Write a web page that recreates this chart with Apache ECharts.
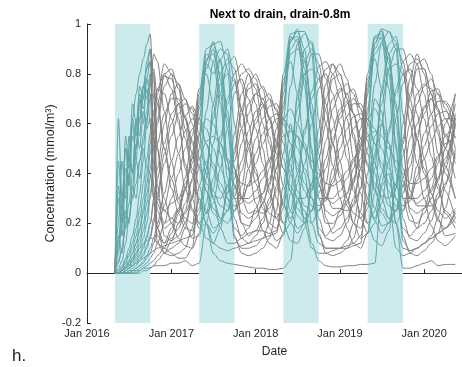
<!DOCTYPE html>
<html>
<head>
<meta charset="utf-8">
<script src="https://cdn.jsdelivr.net/npm/echarts@6/dist/echarts.min.js"></script>
<style>
html, body { margin: 0; padding: 0; background: #fff; }
#chart { width: 462px; height: 367px; }
</style>
</head>
<body>
<div id="chart"></div>
<script>
// Sample dates: half-monthly through the first growing season, monthly afterwards
const dates = [
  '2016-05-01','2016-05-16','2016-06-01','2016-06-16','2016-07-01','2016-07-16','2016-08-01',
  '2016-08-16','2016-09-01','2016-09-16','2016-10-01','2016-10-16','2016-11-01','2016-12-01',
  '2017-01-01','2017-02-01','2017-03-01','2017-04-01','2017-05-01','2017-06-01',
  '2017-07-01','2017-08-01','2017-09-01','2017-10-01','2017-11-01','2017-12-01',
  '2018-01-01','2018-02-01','2018-03-01','2018-04-01','2018-05-01','2018-06-01',
  '2018-07-01','2018-08-01','2018-09-01','2018-10-01','2018-11-01','2018-12-01',
  '2019-01-01','2019-02-01','2019-03-01','2019-04-01','2019-05-01','2019-06-01',
  '2019-07-01','2019-08-01','2019-09-01','2019-10-01','2019-11-01','2019-12-01',
  '2020-01-01','2020-02-01','2020-03-01','2020-04-01','2020-05-15'
];

// Growing seasons (shaded)
const seasonStarts = ['2016-05-01', '2017-05-01', '2018-05-01', '2019-05-01'];
const seasonEnds   = ['2016-10-01', '2017-10-01', '2018-10-01', '2019-10-01'];

// Axis ticks
const yearTicks = ['2016-01-01', '2017-01-01', '2018-01-01', '2019-01-01', '2020-01-01'];
const halfYearTicks = ['2016-01-01', '2016-07-01', '2017-01-01', '2017-07-01', '2018-01-01',
  '2018-07-01', '2019-01-01', '2019-07-01', '2020-01-01'];

// Concentration (mmol/m3) per observation point
const s1 = [0,.08,.2,.35,.5,.62,.72,.8,.86,.92,.96,.7,.35,.15,
  .13,.15,.2,.3,.55,.85,.92,.93,.82,.42,.2,.15,
  .17,.22,.3,.42,.66,.93,.97,.97,.88,.48,.22,.16,
  .18,.22,.3,.42,.64,.92,.98,.97,.9,.5,.24,.18,
  .2,.25,.32,.42,.6];
const s2 = [0,.3,.15,.42,.38,.55,.5,.68,.75,.82,.85,.5,.25,.18,
  .2,.25,.33,.48,.72,.9,.92,.85,.58,.3,.2,.19,
  .22,.28,.36,.52,.8,.96,.97,.9,.62,.3,.2,.2,
  .23,.28,.37,.52,.8,.95,.97,.88,.6,.3,.21,.2,
  .24,.3,.38,.5,.72];
const s3 = [0,.62,.3,.5,.35,.6,.45,.7,.6,.78,.72,.35,.12,.08,
  .1,.12,.18,.3,.68,.88,.85,.68,.38,.14,.1,.1,
  .11,.14,.2,.35,.75,.95,.93,.75,.42,.15,.1,.1,
  .1,.13,.2,.34,.74,.95,.94,.74,.4,.13,.09,.1,
  .12,.15,.22,.35,.62];
const s4 = [0,.04,.1,.2,.28,.4,.52,.62,.7,.78,.85,.8,.5,.25,
  .22,.2,.24,.3,.42,.65,.85,.9,.88,.6,.3,.24,
  .25,.24,.26,.33,.48,.75,.92,.96,.92,.62,.32,.26,
  .26,.25,.27,.34,.5,.76,.93,.97,.93,.64,.33,.27,
  .27,.27,.3,.36,.48];
const s5 = [0,.2,.45,.3,.55,.4,.6,.5,.65,.58,.62,.45,.3,.25,
  .28,.3,.36,.44,.62,.84,.8,.86,.65,.42,.3,.28,
  .3,.32,.38,.46,.68,.88,.9,.85,.68,.42,.3,.28,
  .3,.32,.38,.46,.66,.88,.92,.86,.68,.42,.3,.28,
  .3,.33,.38,.46,.6];
const s6 = [0,.1,.25,.18,.4,.3,.45,.38,.5,.42,.4,.3,.18,.12,
  .18,.26,.38,.55,.74,.8,.68,.48,.3,.18,.15,.18,
  .26,.32,.42,.58,.78,.85,.72,.5,.3,.18,.15,.18,
  .25,.32,.42,.58,.78,.86,.74,.52,.3,.18,.15,.18,
  .26,.34,.44,.6,.72];
const s7 = [0,.02,.05,.12,.22,.35,.5,.62,.75,.82,.9,.55,.18,.08,
  .07,.08,.1,.18,.5,.85,.93,.78,.45,.15,.08,.07,
  .08,.1,.14,.25,.62,.93,.98,.82,.5,.16,.08,.07,
  .08,.1,.14,.25,.6,.92,.98,.84,.52,.15,.08,.07,
  .09,.12,.16,.26,.5];
const s8 = [0,.12,.3,.22,.48,.4,.62,.55,.75,.7,.8,.55,.28,.2,
  .22,.26,.34,.46,.7,.86,.88,.8,.62,.35,.24,.22,
  .24,.28,.35,.5,.76,.94,.95,.86,.64,.36,.25,.23,
  .25,.29,.36,.5,.76,.94,.96,.88,.66,.37,.26,.24,
  .26,.3,.37,.5,.68];
const s9 = [0,.45,.25,.55,.42,.68,.6,.72,.66,.74,.6,.3,.15,.12,
  .14,.18,.25,.38,.66,.82,.9,.72,.45,.22,.14,.12,
  .15,.2,.28,.42,.72,.9,.94,.78,.48,.22,.14,.13,
  .15,.2,.28,.42,.72,.9,.95,.8,.5,.22,.14,.13,
  .16,.21,.3,.44,.64];
const o1 = [0,.01,.03,.06,.1,.15,.22,.32,.45,.6,.75,.88,.85,.65,
  .45,.3,.2,.14,.15,.28,.52,.72,.84,.87,.76,.6,
  .42,.28,.18,.13,.15,.32,.6,.8,.88,.88,.78,.62,
  .45,.3,.2,.14,.16,.32,.6,.82,.9,.9,.8,.64,
  .46,.32,.22,.15,.16];
const o2 = [0,0,.01,.03,.05,.08,.12,.18,.26,.36,.48,.6,.72,.84,
  .8,.62,.42,.26,.18,.2,.34,.52,.7,.8,.84,.8,
  .68,.5,.34,.22,.16,.2,.36,.56,.73,.83,.85,.8,
  .7,.52,.35,.22,.16,.2,.36,.56,.74,.85,.88,.84,
  .72,.54,.36,.24,.18];
const o3 = [0,.15,.08,.25,.2,.35,.3,.45,.52,.62,.7,.72,.68,.5,
  .38,.28,.22,.2,.26,.42,.62,.76,.8,.77,.65,.52,
  .4,.3,.24,.22,.28,.46,.66,.8,.82,.78,.65,.52,
  .4,.3,.24,.22,.28,.46,.68,.82,.84,.8,.66,.54,
  .42,.32,.25,.22,.26];
const o4 = [0,0,.01,.02,.04,.06,.1,.14,.2,.28,.38,.5,.62,.8,
  .82,.74,.58,.42,.3,.24,.28,.42,.58,.72,.8,.82,
  .78,.68,.52,.37,.27,.22,.28,.44,.6,.74,.82,.84,
  .8,.7,.54,.38,.28,.22,.28,.45,.62,.76,.84,.86,
  .82,.72,.56,.4,.3];
const o5 = [0,.35,.2,.5,.45,.62,.55,.75,.7,.85,.9,.78,.5,.3,
  .2,.14,.11,.1,.16,.38,.68,.86,.9,.78,.58,.42,
  .28,.17,.12,.1,.16,.4,.72,.9,.93,.8,.6,.43,
  .3,.18,.12,.1,.16,.42,.74,.92,.95,.82,.6,.44,
  .3,.19,.13,.11,.15];
const o6 = [0,.05,.1,.18,.22,.3,.36,.45,.55,.65,.78,.82,.7,.5,
  .34,.24,.18,.17,.24,.42,.64,.8,.86,.82,.66,.5,
  .36,.26,.2,.18,.26,.46,.7,.85,.9,.84,.68,.52,
  .38,.27,.2,.18,.26,.48,.72,.88,.92,.85,.7,.54,
  .4,.28,.21,.18,.24];
const o7 = [0,0,.02,.04,.07,.1,.15,.22,.3,.4,.52,.64,.74,.72,
  .62,.48,.34,.25,.2,.24,.38,.55,.68,.76,.78,.7,
  .58,.44,.32,.24,.2,.25,.4,.58,.7,.78,.8,.72,
  .6,.46,.33,.24,.2,.25,.4,.58,.72,.8,.82,.74,
  .62,.47,.34,.25,.2];
const w1 = [0,0,.01,.02,.03,.05,.07,.1,.14,.2,.3,.45,.6,.75,
  .8,.76,.62,.48,.35,.25,.18,.2,.32,.5,.66,.76,
  .8,.74,.62,.48,.35,.25,.18,.2,.34,.52,.7,.8,
  .84,.78,.64,.5,.36,.26,.19,.2,.34,.54,.72,.84,
  .86,.8,.66,.5,.38];
const w2 = [0,0,0,.01,.02,.03,.05,.07,.1,.14,.2,.3,.42,.6,
  .72,.76,.7,.6,.46,.33,.24,.21,.25,.38,.52,.64,
  .72,.75,.7,.6,.46,.33,.23,.2,.25,.38,.53,.66,
  .73,.76,.72,.62,.48,.34,.24,.2,.25,.38,.54,.68,
  .75,.78,.72,.62,.5];
const w3 = [0,.01,.02,.05,.08,.12,.18,.26,.36,.46,.56,.65,.74,.8,
  .74,.6,.44,.3,.2,.14,.12,.18,.35,.56,.72,.8,
  .74,.6,.45,.3,.2,.13,.12,.18,.36,.58,.76,.84,
  .76,.62,.46,.32,.2,.13,.11,.17,.36,.6,.78,.88,
  .8,.64,.48,.33,.22];
const w4 = [0,0,0,0,.01,.02,.03,.05,.07,.1,.14,.2,.3,.44,
  .55,.64,.68,.66,.56,.43,.33,.27,.25,.31,.41,.52,
  .6,.67,.7,.66,.56,.43,.33,.27,.25,.32,.42,.54,
  .62,.68,.7,.66,.56,.44,.34,.27,.25,.32,.43,.56,
  .64,.7,.72,.68,.58];
const w5 = [0,0,.01,.02,.03,.05,.08,.12,.17,.24,.32,.42,.52,.64,
  .7,.7,.63,.53,.43,.36,.31,.3,.35,.45,.58,.68,
  .72,.7,.62,.52,.42,.35,.3,.3,.36,.46,.6,.7,
  .74,.72,.64,.54,.44,.36,.31,.3,.36,.47,.6,.72,
  .76,.74,.66,.56,.46];
const w6 = [0,0,.01,.03,.05,.08,.12,.17,.24,.32,.42,.55,.68,.79,
  .78,.68,.54,.4,.28,.2,.16,.2,.32,.48,.64,.74,
  .76,.68,.55,.4,.28,.2,.16,.2,.33,.5,.66,.78,
  .8,.7,.56,.42,.3,.21,.16,.2,.34,.52,.7,.82,
  .82,.72,.58,.43,.3];
const w7 = [0,0,0,.01,.02,.04,.06,.08,.11,.15,.2,.28,.38,.52,
  .64,.68,.62,.52,.42,.33,.26,.22,.25,.34,.45,.57,
  .65,.68,.63,.53,.42,.33,.26,.22,.25,.35,.46,.58,
  .66,.69,.64,.54,.43,.33,.26,.22,.25,.35,.47,.6,
  .67,.7,.65,.55,.44];
const p1 = [0,0,0,0,0,.01,.02,.03,.05,.07,.1,.14,.2,.32,
  .45,.55,.63,.67,.62,.52,.42,.33,.27,.25,.3,.42,
  .54,.62,.67,.68,.62,.52,.42,.33,.27,.25,.3,.42,
  .55,.63,.68,.68,.62,.52,.42,.33,.27,.25,.31,.43,
  .56,.64,.69,.69,.62];
const p2 = [0,0,0,0,0,0,.01,.02,.03,.04,.06,.08,.12,.2,
  .3,.4,.5,.58,.62,.58,.5,.42,.35,.3,.3,.35,
  .44,.52,.58,.62,.62,.58,.5,.42,.35,.3,.3,.36,
  .45,.52,.58,.62,.62,.58,.5,.42,.35,.3,.3,.37,
  .46,.53,.59,.62,.62];
const p3 = [0,0,0,.01,.02,.03,.04,.06,.08,.11,.15,.22,.32,.48,
  .6,.68,.7,.64,.52,.4,.3,.22,.2,.25,.35,.5,
  .62,.7,.72,.65,.52,.4,.3,.22,.2,.25,.36,.52,
  .64,.72,.74,.66,.53,.4,.3,.22,.2,.25,.37,.54,
  .66,.73,.74,.66,.54];
const p4 = [0,0,0,0,0,0,0,.01,.02,.03,.04,.05,.07,.1,
  .16,.24,.34,.46,.56,.62,.6,.52,.42,.35,.3,.3,
  .33,.38,.45,.54,.62,.66,.6,.52,.42,.35,.3,.3,
  .33,.38,.45,.54,.62,.66,.61,.52,.42,.35,.3,.3,
  .33,.38,.46,.55,.62];
const p5 = [0,0,0,0,.01,.01,.02,.03,.04,.06,.08,.12,.18,.27,
  .38,.48,.57,.62,.6,.52,.44,.36,.3,.27,.28,.36,
  .48,.56,.62,.64,.6,.52,.44,.36,.3,.27,.29,.38,
  .5,.58,.63,.64,.6,.52,.44,.36,.3,.27,.29,.39,
  .51,.59,.64,.65,.6];
const p6 = [0,0,0,0,0,0,0,0,.01,.01,.02,.03,.05,.08,
  .13,.2,.28,.37,.46,.53,.55,.52,.46,.4,.36,.35,
  .37,.41,.46,.51,.55,.57,.55,.5,.45,.4,.36,.35,
  .37,.41,.46,.51,.55,.57,.55,.5,.45,.4,.36,.36,
  .38,.42,.47,.52,.55];
const low1 = [0,0,0,0,0,.01,.01,.01,.02,.02,.02,.03,.03,.03,
  .04,.04,.05,.03,.04,.2,.08,.05,.04,.035,.03,.025,
  .02,.02,.015,.015,.02,.05,.3,.25,.12,.05,.03,.025,
  .025,.03,.03,.035,.035,.04,.35,.4,.2,.02,.02,.03,
  .04,.05,.03,.035,.035];
const low2 = [0,0,.01,.02,.04,.06,.08,.1,.12,.13,.14,.14,.12,.1,
  .08,.06,.06,.1,.35,.45,.3,.18,.12,.12,.14,.16,
  .17,.17,.16,.17,.3,.5,.55,.4,.2,.12,.1,.1,
  .1,.11,.12,.15,.3,.55,.6,.45,.2,.1,.09,.1,
  .12,.14,.16,.18,.22];
const low3 = [0,0,0,.01,.02,.03,.04,.05,.06,.07,.08,.09,.1,.11,
  .12,.13,.14,.15,.3,.2,.12,.1,.09,.1,.11,.12,
  .13,.14,.15,.16,.35,.6,.4,.2,.1,.08,.08,.09,
  .1,.1,.11,.12,.4,.7,.65,.3,.1,.07,.08,.1,
  .12,.14,.16,.18,.25];

const profiles = [s1, s2, s3, s4, s5, s6, s7, s8, s9, o1, o2, o3, o4, o5, o6, o7,
  w1, w2, w3, w4, w5, w6, w7, p1, p2, p3, p4, p5, p6, low1, low2, low3];

const GRAY = '#808080';
const TEAL = '#5ea4a5';
const SHADE = '#cdeaed';
const AXIS = '#262626';
const FONT = '"Liberation Sans", Arial, Helvetica, sans-serif';

const ts = s => new Date(s + 'T00:00:00').getTime();

const series = [{
  type: 'line',
  data: [],
  z: 1,
  silent: true,
  markArea: {
    silent: true,
    itemStyle: { color: SHADE },
    data: seasonStarts.map((s, i) => [{ xAxis: ts(s) }, { xAxis: ts(seasonEnds[i]) }])
  }
}];
profiles.forEach(vals => {
  series.push({
    type: 'line',
    data: vals.map((v, i) => [ts(dates[i]), v]),
    symbol: 'none',
    smooth: 0.3,
    smoothMonotone: 'x',
    lineStyle: { width: 1 },
    z: 2
  });
});

const chart = echarts.init(document.getElementById('chart'));
chart.setOption({
  animation: false,
  backgroundColor: '#fff',
  title: {
    text: 'Next to drain, drain-0.8m',
    left: 275,
    top: 4,
    textAlign: 'center',
    textStyle: { fontSize: 12, fontWeight: 'bold', color: '#000', fontFamily: FONT }
  },
  grid: { left: 87, right: 0, top: 24, bottom: 44 },
  visualMap: {
    type: 'piecewise',
    show: false,
    dimension: 0,
    seriesIndex: profiles.map((_, i) => i + 1),
    pieces: seasonStarts.map((s, i) => ({ gte: ts(s), lt: ts(seasonEnds[i]), color: TEAL })),
    outOfRange: { color: GRAY }
  },
  xAxis: {
    // dates as millisecond timestamps on a linear axis
    type: 'value',
    min: ts('2016-01-01'),
    max: ts('2020-06-13'),
    name: 'Date',
    nameLocation: 'middle',
    nameGap: 23,
    nameMoveOverlap: false,
    nameTextStyle: { fontSize: 12, color: AXIS, fontFamily: FONT },
    axisLine: { lineStyle: { color: AXIS, width: 1 } },
    axisTick: { inside: true, length: 4, customValues: halfYearTicks.map(ts), lineStyle: { color: AXIS } },
    axisLabel: {
      customValues: yearTicks.map(ts),
      formatter: v => 'Jan ' + new Date(v).getFullYear(),
      fontSize: 11, color: AXIS, fontFamily: FONT, margin: 5
    },
    splitLine: { show: false }
  },
  yAxis: {
    type: 'value',
    min: -0.2,
    max: 1,
    interval: 0.2,
    name: 'Concentration (mmol/m³)',
    nameLocation: 'middle',
    nameGap: 30,
    nameMoveOverlap: false,
    nameTextStyle: { fontSize: 12.5, color: AXIS, fontFamily: FONT },
    axisLine: { show: true, lineStyle: { color: AXIS, width: 1 } },
    axisTick: { show: true, inside: true, length: 4, lineStyle: { color: AXIS } },
    axisLabel: { fontSize: 11, color: AXIS, fontFamily: FONT, margin: 6 },
    splitLine: { show: false }
  },
  graphic: [{
    type: 'text',
    left: 12,
    top: 348,
    style: { text: 'h.', fontSize: 17, fill: '#222', fontFamily: FONT }
  }],
  series: series
});
</script>
</body>
</html>
